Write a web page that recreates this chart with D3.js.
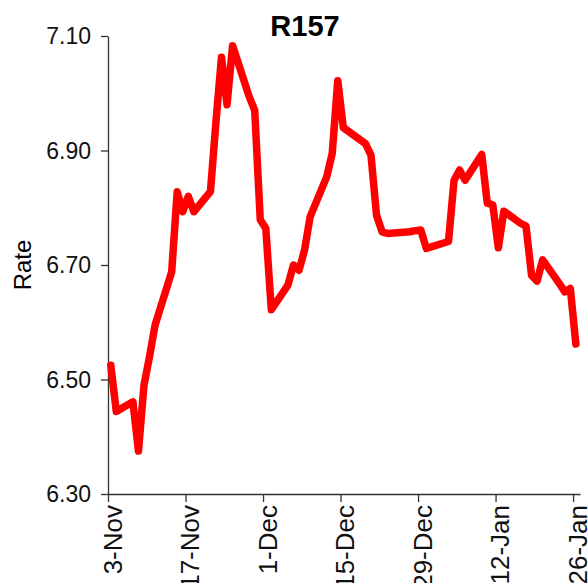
<!DOCTYPE html>
<html>
<head>
<meta charset="utf-8">
<script src="https://cdn.jsdelivr.net/npm/d3@7"></script>
<style>
  html, body { margin: 0; padding: 0; background: #fff; }
  svg { display: block; font-family: "Liberation Sans", Arial, sans-serif; }
</style>
</head>
<body>
<svg id="chart" width="588" height="583"></svg>
<script>
const title = "R157";
const yLabel = "Rate";
const dates = [
  "2011-11-03","2011-11-04","2011-11-07","2011-11-08","2011-11-09","2011-11-10","2011-11-11",
  "2011-11-14","2011-11-15","2011-11-16","2011-11-17","2011-11-18",
  "2011-11-21","2011-11-22","2011-11-23","2011-11-24","2011-11-25",
  "2011-11-28","2011-11-29","2011-11-30","2011-12-01","2011-12-02",
  "2011-12-05","2011-12-06","2011-12-07","2011-12-08","2011-12-09",
  "2011-12-12","2011-12-13","2011-12-14","2011-12-15",
  "2011-12-19","2011-12-20","2011-12-21","2011-12-22","2011-12-23",
  "2011-12-27","2011-12-28","2011-12-29","2011-12-30",
  "2012-01-03","2012-01-04","2012-01-05","2012-01-06",
  "2012-01-09","2012-01-10","2012-01-11","2012-01-12","2012-01-13",
  "2012-01-16","2012-01-17","2012-01-18","2012-01-19","2012-01-20",
  "2012-01-23","2012-01-24","2012-01-25","2012-01-26"
];
const rates = [
  6.525, 6.444, 6.461, 6.375, 6.490, 6.540, 6.595,
  6.688, 6.828, 6.793, 6.820, 6.793,
  6.828, 6.950, 7.063, 6.980, 7.083,
  6.994, 6.970, 6.779, 6.764, 6.622,
  6.665, 6.700, 6.691, 6.726, 6.784,
  6.854, 6.895, 7.022, 6.940,
  6.912, 6.892, 6.787, 6.758, 6.755,
  6.758, 6.760, 6.761, 6.729,
  6.741, 6.848, 6.866, 6.848,
  6.893, 6.808, 6.805, 6.730, 6.794,
  6.773, 6.768, 6.682, 6.672, 6.709,
  6.668, 6.653, 6.659, 6.562
];
const xTickDates = ["2011-11-03","2011-11-17","2011-12-01","2011-12-15","2011-12-29","2012-01-12","2012-01-26"];
const yTicks = [6.30, 6.50, 6.70, 6.90, 7.10];

const parse = d3.utcParse("%Y-%m-%d");
const data = dates.map((d, i) => ({ date: d3.utcHour.offset(parse(d), 12), v: rates[i] }));

const svg = d3.select("#chart");
const x = d3.scaleUtc()
  .domain([parse("2011-11-03"), d3.utcHour.offset(parse("2012-01-27"), 6)])
  .range([108, 580]);
const y = d3.scaleLinear().domain([6.3, 7.1]).range([494, 36]);

// x axis
const gx = svg.append("g").attr("transform", "translate(0,494)")
  .call(d3.axisBottom(x)
    .tickValues(xTickDates.map(parse))
    .tickFormat(d3.utcFormat("%-d-%b"))
    .tickSize(8).tickSizeOuter(0));
gx.select(".domain").attr("stroke", "#333").attr("stroke-width", 1.3);
gx.selectAll(".tick line").attr("stroke", "#333").attr("stroke-width", 1.3);
gx.selectAll(".tick text")
  .attr("transform", "rotate(-90)")
  .attr("x", -11).attr("y", 0).attr("dy", "0.5em")
  .attr("text-anchor", "end")
  .attr("fill", "#111")
  .style("font-size", "26px");

// y axis
const gy = svg.append("g").attr("transform", "translate(108,0)")
  .call(d3.axisLeft(y)
    .tickValues(yTicks)
    .tickFormat(d3.format(".2f"))
    .tickSize(7).tickSizeOuter(0));
gy.select(".domain").attr("stroke", "#333").attr("stroke-width", 1.3);
gy.selectAll(".tick line").attr("stroke", "#333").attr("stroke-width", 1.3);
gy.selectAll(".tick text")
  .attr("x", -17).attr("dy", "0.34em")
  .attr("fill", "#111")
  .style("font-size", "23px");

// line
const line = d3.line().x(d => x(d.date)).y(d => y(d.v));
svg.append("path").datum(data)
  .attr("fill", "none")
  .attr("stroke", "#ff0000")
  .attr("stroke-width", 7.5)
  .attr("stroke-linejoin", "round")
  .attr("stroke-linecap", "round")
  .attr("d", line);

// title
svg.append("text")
  .attr("x", 305).attr("y", 36)
  .attr("text-anchor", "middle")
  .style("font-size", "29px").style("font-weight", "bold")
  .attr("fill", "#000")
  .text(title);

// y label
svg.append("text")
  .attr("transform", "translate(31,265) rotate(-90)")
  .attr("text-anchor", "middle")
  .style("font-size", "24px")
  .attr("fill", "#000")
  .text(yLabel);
</script>
</body>
</html>
